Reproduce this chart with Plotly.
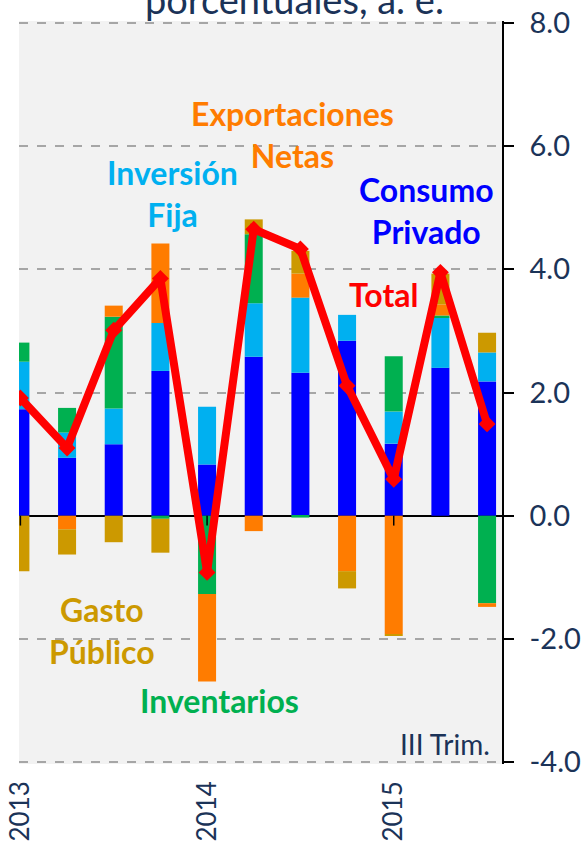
import plotly.graph_objects as go

# ---- data (quarters 2013 Q1 .. 2015 Q3) ----
quarters = ["2013 I", "2013 II", "2013 III", "2013 IV",
            "2014 I", "2014 II", "2014 III", "2014 IV",
            "2015 I", "2015 II", "2015 III"]
consumo_privado = [1.73, 0.94, 1.16, 2.35, 0.83, 2.58, 2.32, 2.84, 1.17, 2.40, 2.18]
inversion_fija = [0.77, 0.41, 0.58, 0.78, 0.94, 0.87, 1.22, 0.42, 0.52, 0.82, 0.47]
inventarios = [0.31, 0.40, 1.49, -0.05, -1.27, 1.12, -0.03, 0.00, 0.90, 0.03, -1.42]
exportaciones_netas = [0.00, -0.22, 0.18, 1.29, -1.42, -0.25, 0.39, -0.90, -1.92, 0.18, -0.06]
gasto_publico = [-0.90, -0.41, -0.43, -0.55, 0.00, 0.24, 0.37, -0.28, -0.02, 0.50, 0.32]
total = [1.91, 1.10, 3.01, 3.85, -0.92, 4.65, 4.33, 2.11, 0.59, 3.95, 1.49]

year_tick_pos = [0, 4, 8]
year_tick_text = ["2013", "2014", "2015"]
y_tick_vals = [-4, -2, 0, 2, 4, 6, 8]
y_tick_text = ["-4.0", "-2.0", "0.0", "2.0", "4.0", "6.0", "8.0"]

x = list(range(len(quarters)))

series = [
    ("Consumo Privado", consumo_privado, "#0000FF"),
    ("Inversión Fija", inversion_fija, "#00B0F0"),
    ("Inventarios", inventarios, "#00B050"),
    ("Exportaciones Netas", exportaciones_netas, "#FF7C00"),
    ("Gasto Público", gasto_publico, "#CC9900"),
]

FONT = "Lato"
NAVY = "#1B3358"

fig = go.Figure()
for name, vals, col in series:
    fig.add_trace(go.Bar(x=x, y=vals, name=name, marker_color=col,
                         marker_line_width=0, width=0.386, hoverinfo="skip"))

fig.add_trace(go.Scatter(x=x, y=total, name="Total", mode="lines+markers",
                         line=dict(color="#FF0000", width=8),
                         marker=dict(symbol="diamond", size=13, color="#FF0000")))

# tick marks sitting on the zero line
for t in year_tick_pos:
    fig.add_shape(type="line", xref="x", yref="y", x0=t, x1=t, y0=0, y1=-0.16,
                  line=dict(color="black", width=1.5))

labels = [
    ("<b>Exportaciones<br>Netas</b>", 5.84, 6.18, "#FF7C00"),
    ("<b>Inversión<br>Fija</b>", 3.25, 5.23, "#00B0F0"),
    ("<b>Consumo<br>Privado</b>", 8.70, 4.95, "#0000FF"),
    ("<b>Total</b>", 7.79, 3.59, "#FF0000"),
    ("<b>Gasto<br>Público</b>", 1.75, -1.87, "#CC9900"),
    ("<b>Inventarios</b>", 4.26, -3.0, "#00B050"),
]
for txt, ax, ay, col in labels:
    fig.add_annotation(x=ax, y=ay, xref="x", yref="y", text=txt, showarrow=False,
                       font=dict(family=FONT, size=32, color=col), align="center",
                       xanchor="center", yanchor="middle")

fig.add_annotation(x=10.11, y=-3.70, xref="x", yref="y", text="III Trim.",
                   showarrow=False, xanchor="right", yanchor="middle",
                   font=dict(family=FONT, size=28, color=NAVY))

fig.add_annotation(x=0.570, y=1.030, xref="paper", yref="paper",
                   text="porcentuales, a. e.", showarrow=False,
                   xanchor="center", yanchor="middle",
                   font=dict(family=FONT, size=38, color=NAVY))

fig.update_layout(
    width=585, height=850,
    margin=dict(l=19, r=83, t=21, b=86, autoexpand=False),
    paper_bgcolor="white", plot_bgcolor="#F2F2F2",
    barmode="relative", bargap=0.6,
    showlegend=False,
    font=dict(family=FONT, color=NAVY),
)
fig.update_xaxes(range=[-0.03, 10.32], tickvals=year_tick_pos, ticktext=year_tick_text,
                 tickangle=-90, ticks="", showgrid=False, zeroline=False, showline=False,
                 automargin=False,
                 tickfont=dict(family=FONT, size=26, color=NAVY), ticklabelstandoff=11)
fig.update_yaxes(range=[-4.03, 8.03], side="right", tickvals=y_tick_vals, ticktext=y_tick_text,
                 showline=True, linecolor="black", linewidth=1.5, automargin=False,
                 ticks="outside", ticklen=10, tickcolor="black", tickwidth=1.5,
                 showgrid=True, gridcolor="#A6A6A6", griddash="dash", gridwidth=1.5,
                 zeroline=True, zerolinecolor="black", zerolinewidth=1.5,
                 tickfont=dict(family=FONT, size=29, color=NAVY), ticklabelstandoff=10)

fig.write_html("out.html", config={"displayModeBar": False},
               post_script="document.body.style.margin='0px';")
